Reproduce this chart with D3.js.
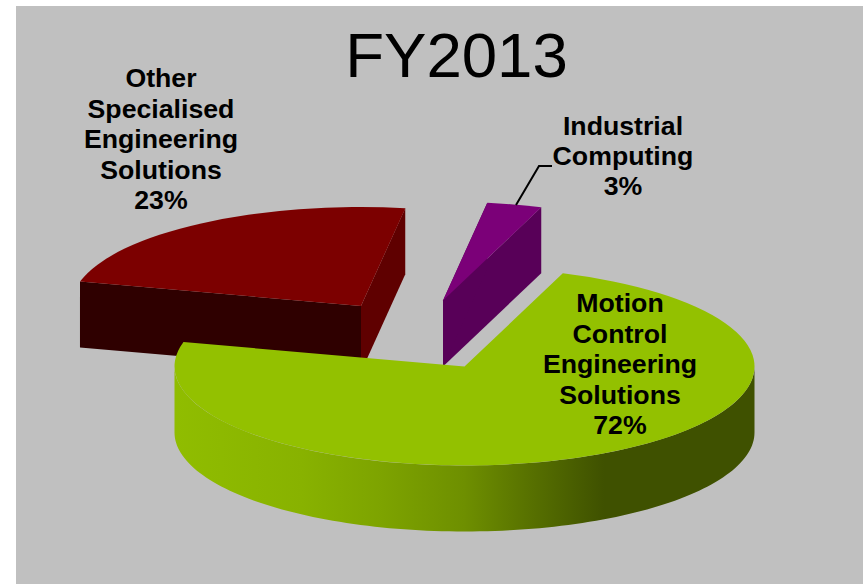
<!DOCTYPE html>
<html>
<head>
<meta charset="utf-8">
<title>FY2013</title>
<script src="https://cdn.jsdelivr.net/npm/d3@7/dist/d3.min.js"></script>
<style>
  html, body { margin: 0; padding: 0; background: #fff; }
  svg { display: block; }
  text { font-family: "Liberation Sans", Arial, sans-serif; fill: #000; }
</style>
</head>
<body>
<svg id="chart" width="863" height="584"></svg>
<script>
// Revenue share by segment
const segments = ["Motion Control Engineering Solutions", "Other Specialised Engineering Solutions", "Industrial Computing"];
const shares = [72, 23, 3];
const labelLines = [
  ["Motion", "Control", "Engineering", "Solutions"],
  ["Other", "Specialised", "Engineering", "Solutions"],
  ["Industrial", "Computing"]
];
const chartTitle = "FY2013";

// Tilted-pie geometry
const centre = { x: 417.5, y: 335 };
const rx = 290, ry = 99, depth = 66;
const firstAngle = 19.8 * Math.PI / 180;

// Exploded position of each slice, relative to the pie centre
const explode = [[47, 31.5], [-56.5, -29], [25.5, -34.5]];

const topColours = ["#93c100", "#7c0000", "#7b0078"];
const endWallColours = ["#5f7c00", "#2f0000", "#580058"];
const startWallColours = ["#5f7c00", "#5f0000", "#580058"];

// Where each text block sits: centre x and first baseline
const labelPlace = [
  { x: 620, y: 312, step: 30.6 },
  { x: 161, y: 87, step: 30.5 },
  { x: 623, y: 135, step: 30.2 }
];

const svg = d3.select("#chart");
const defs = svg.append("defs");

// Backdrop panel
svg.append("rect").attr("x", 16).attr("y", 6).attr("width", 847).attr("height", 578).attr("fill", "#c0c0c0");

// Horizontal shading on the curved rim of the big slice
const rimShade = defs.append("linearGradient")
  .attr("id", "rimShade")
  .attr("gradientUnits", "userSpaceOnUse")
  .attr("x1", 174).attr("x2", 755).attr("y1", 0).attr("y2", 0);
[[0, "#90bd00"], [0.22, "#88b200"], [0.36, "#7da300"], [0.5, "#6e8f00"], [0.62, "#566f00"], [0.74, "#3f5100"], [1, "#3f5100"]]
  .forEach(([o, c]) => rimShade.append("stop").attr("offset", o).attr("stop-color", c));

const pie = d3.pie().sort(null).startAngle(firstAngle).endAngle(firstAngle + 2 * Math.PI);
const slices = pie(shares);

const onEllipse = a => [rx * Math.sin(a), -ry * Math.cos(a)];
const polygon = d3.line();

// Background slices first, the large slice last so that it overlaps them
const order = [1, 2, 0];
order.forEach(i => {
  const s = slices[i];
  const g = svg.append("g")
    .attr("transform", `translate(${centre.x + explode[i][0]},${centre.y + explode[i][1]})`);

  const start = onEllipse(s.startAngle), end = onEllipse(s.endAngle);

  // Cut faces, drawn from the apex out to the rim
  const face = (p, colour) => g.append("path")
    .attr("d", polygon([[0, 0], p, [p[0], p[1] + depth], [0, depth]]) + "Z")
    .attr("fill", colour);
  if (i !== 0) {
    face(end, startWallColours[i]);
    face(start, endWallColours[i]);
  }

  // Curved rim on the front half of the ellipse
  const from = Math.max(s.startAngle, Math.PI / 2);
  const to = Math.min(s.endAngle, 3 * Math.PI / 2);
  if (to > from) {
    const angles = d3.range(0, 121).map(t => from + (to - from) * t / 120);
    const upper = angles.map(onEllipse);
    const lower = angles.map(onEllipse).reverse().map(([x, y]) => [x, y + depth]);
    const originX = centre.x + explode[i][0];
    rimShade.attr("gradientTransform", `translate(${-originX},0)`);
    g.append("path").attr("d", polygon(upper.concat(lower)) + "Z").attr("fill", "url(#rimShade)");
  }

  // Top face: a unit arc scaled to the tilted ellipse
  g.append("path")
    .attr("transform", `scale(${rx},${ry})`)
    .attr("d", d3.arc().innerRadius(0).outerRadius(1)(s))
    .attr("fill", topColours[i]);
});

// Leader from the small slice to its label
svg.append("path")
  .attr("d", polygon([[516, 205], [539, 166], [552, 166]]))
  .attr("fill", "none").attr("stroke", "#000").attr("stroke-width", 2);

// Slice labels with their percentages
shares.forEach((v, i) => {
  const t = svg.append("text")
    .attr("text-anchor", "middle")
    .attr("font-size", 26.7)
    .attr("font-weight", 700)
    .attr("aria-label", segments[i]);
  labelLines[i].concat(v + "%").forEach((line, n) => {
    t.append("tspan")
      .attr("x", labelPlace[i].x)
      .attr("y", labelPlace[i].y + n * labelPlace[i].step)
      .text(line);
  });
});

svg.append("text")
  .attr("x", 456.5).attr("y", 77)
  .attr("text-anchor", "middle")
  .attr("font-size", 63.6)
  .text(chartTitle);
</script>
</body>
</html>
